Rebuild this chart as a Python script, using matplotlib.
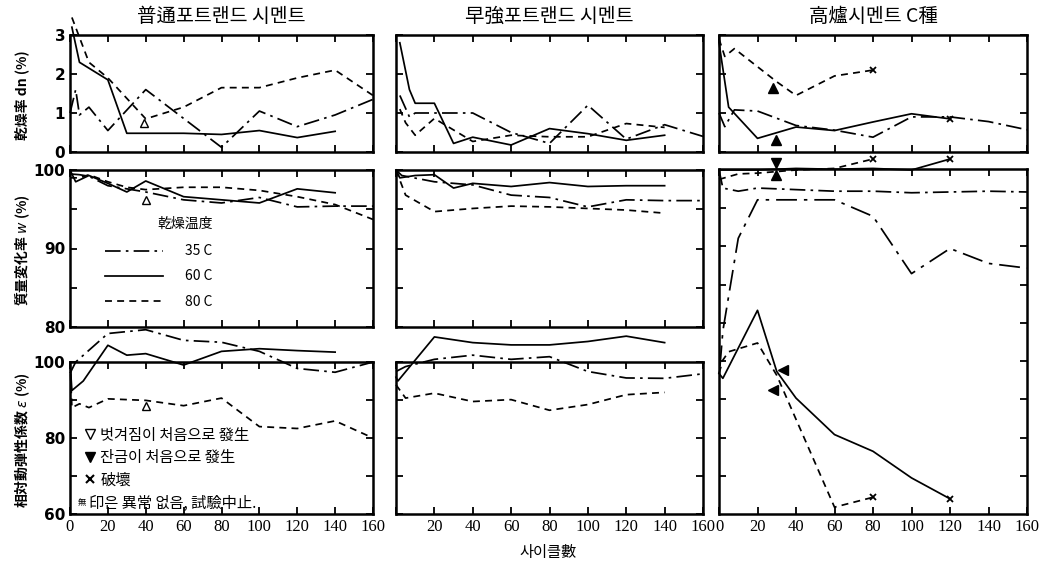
import numpy as np
import matplotlib.pyplot as plt
from matplotlib.lines import Line2D

plt.rcParams['font.family'] = ['Noto Sans CJK KR', 'DejaVu Sans']

# cycles / values
# --- 普通포트랜드 시멘트 ---
op_dn35_x = [0, 3, 5, 10, 20, 40, 80, 100, 120, 140, 160]
op_dn35 = [1.0, 1.6, 0.95, 1.15, 0.55, 1.6, 0.12, 1.05, 0.65, 0.95, 1.35]
op_dn60_x = [1, 5, 20, 30, 40, 60, 80, 100, 120, 140]
op_dn60 = [3.2, 2.3, 1.85, 0.48, 0.48, 0.48, 0.45, 0.55, 0.37, 0.53]
op_dn80_x = [1, 10, 20, 40, 60, 80, 100, 120, 140, 160]
op_dn80 = [3.45, 2.3, 1.9, 0.85, 1.15, 1.65, 1.65, 1.9, 2.1, 1.45]

op_w35_x = [0, 5, 10, 20, 30, 40, 60, 80, 100, 120, 140, 160]
op_w35 = [99.5, 99.4, 99.2, 98.0, 97.6, 97.2, 96.2, 95.8, 96.5, 95.3, 95.4, 95.4]
op_w60_x = [0, 3, 10, 20, 30, 40, 60, 80, 100, 120, 140]
op_w60 = [100, 98.5, 99.3, 98.3, 97.2, 98.6, 96.6, 96.2, 95.8, 97.6, 97.1]
op_w80_x = [0, 5, 10, 20, 30, 40, 60, 80, 100, 120, 140, 160]
op_w80 = [99, 99, 99.4, 98.5, 97.8, 97.5, 97.8, 97.8, 97.4, 96.6, 95.6, 93.7]

op_e35_x = [0, 3, 20, 40, 60, 80, 100, 120, 140, 160]
op_e35 = [97, 100, 107.5, 108.5, 105.7, 105.2, 102.8, 98.3, 97.3, 100]
op_e60_x = [0, 1, 7, 20, 30, 40, 60, 80, 100, 120, 140]
op_e60 = [100, 92.5, 95, 104.4, 101.8, 102.2, 99.2, 102.8, 103.5, 103, 102.6]
op_e80_x = [0, 1, 5, 10, 20, 40, 60, 80, 100, 120, 140, 160]
op_e80 = [100, 88, 89, 88, 90.3, 89.9, 88.5, 90.5, 83, 82.5, 84.5, 80]

# --- 早強포트랜드 시멘트 ---
hs_dn35_x = [2, 7, 10, 20, 40, 60, 80, 100, 120, 140, 160]
hs_dn35 = [1.45, 0.9, 1.0, 1.0, 1.0, 0.5, 0.22, 1.2, 0.33, 0.7, 0.4]
hs_dn60_x = [2, 7, 10, 20, 30, 40, 60, 80, 100, 120, 140]
hs_dn60 = [2.8, 1.6, 1.25, 1.25, 0.22, 0.38, 0.18, 0.6, 0.47, 0.3, 0.43]
hs_dn80_x = [2, 5, 10, 20, 40, 60, 80, 100, 120, 140]
hs_dn80 = [1.1, 0.75, 0.43, 0.86, 0.27, 0.43, 0.39, 0.39, 0.73, 0.63]

hs_w35_x = [0, 3, 20, 40, 60, 80, 100, 120, 140, 160]
hs_w35 = [100, 99.3, 98.5, 98.1, 96.8, 96.5, 95.3, 96.2, 96.1, 96.1]
hs_w60_x = [0, 2, 10, 20, 30, 40, 60, 80, 100, 120, 140]
hs_w60 = [100, 99, 99.3, 99.4, 97.7, 98.3, 97.9, 98.4, 97.9, 98, 98]
hs_w80_x = [0, 5, 20, 40, 60, 80, 100, 120, 140]
hs_w80 = [100, 96.8, 94.7, 95.1, 95.4, 95.3, 95.1, 94.9, 94.5]

hs_e35_x = [0, 5, 20, 40, 60, 80, 100, 120, 140, 160]
hs_e35 = [97.5, 98.8, 100.7, 101.8, 100.7, 101.4, 97.5, 95.8, 95.7, 96.9]
hs_e60_x = [0, 1, 20, 40, 60, 80, 100, 120, 140]
hs_e60 = [96, 95, 106.6, 105.1, 104.5, 104.5, 105.4, 106.8, 105.1]
hs_e80_x = [0, 5, 20, 40, 60, 80, 100, 120, 140]
hs_e80 = [94, 90.5, 91.8, 89.6, 90.1, 87.3, 88.8, 91.4, 92]

# --- 高爐시멘트 C種 ---
bf_dn35_x = [0, 3, 8, 20, 40, 60, 80, 100, 120, 140, 160]
bf_dn35 = [1.0, 0.65, 1.08, 1.05, 0.68, 0.56, 0.38, 0.9, 0.9, 0.78, 0.57]
bf_dn60_x = [0, 5, 20, 40, 60, 80, 100, 120]
bf_dn60 = [2.8, 1.15, 0.35, 0.64, 0.55, 0.77, 0.98, 0.85]
bf_dn80_x = [0, 3, 8, 30, 40, 60, 80]
bf_dn80 = [2.9, 2.45, 2.65, 1.8, 1.45, 1.95, 2.1]

bf_w35_x = [0, 2, 10, 20, 40, 60, 80, 100, 120, 140, 160]
bf_w35 = [100, 97.7, 97.3, 97.7, 97.5, 97.3, 97.3, 97.1, 97.2, 97.3, 97.2]
bf_w35b_x = [0.5, 2, 10, 20, 40, 60, 80, 100, 120, 140, 160]
bf_w35b = [75, 79.5, 91.3, 96.2, 96.2, 96.2, 94.1, 86.8, 90.0, 88.1, 87.5]
bf_w60_x = [0, 20, 40, 60, 80, 100, 120]
bf_w60 = [100, 100, 100.2, 100.1, 100.2, 100, 101.4]
bf_w80_x = [0, 10, 20, 30, 40, 60, 80]
bf_w80 = [98.8, 99.5, 99.6, 99.8, 100, 100.2, 101.4]

bf_e60_x = [0, 2, 20, 30, 40, 60, 80, 100, 120]
bf_e60 = [97, 95.7, 113.6, 97.5, 90.5, 80.9, 76.5, 69.5, 64]
bf_e80_x = [0, 2, 5, 20, 30, 60, 80]
bf_e80 = [97, 100.5, 102.7, 105, 96.5, 61.8, 64.4]

# event markers
peel_x = [39, 40, 40]          # ▽ (op: dn, w, e)
peel_y = [0.75, 96.2, 88.3]
crack_dn_x = [28, 29.5]
crack_dn_y = [1.65, 0.3]
crack_w_x = [29.5, 29.5]
crack_w_y = [100.85, 99.4]
crack_e_x = [33.4, 27.9]
crack_e_y = [97.9, 92.7]
break_x = [80, 120]
break_dn = [2.1, 0.85]
break_w = [101.4, 101.4]
break_e = [64.4, 64]

xticks = list(range(0, 161, 20))
ls35 = (0, (9, 3, 1.5, 3))
ls35b = (0, (12, 4, 2, 4))
ls60 = '-'
ls80 = (0, (4, 3))

W, H = 1048, 568
fig = plt.figure(figsize=(W / 100, H / 100), dpi=100)


def rect(x0, x1, y0, y1):
    return [x0 / W, 1 - y1 / H, (x1 - x0) / W, (y1 - y0) / H]


cols = [(70, 373), (396, 703), (719, 1027)]
rows = [(35, 152), (170, 327), (362, 514)]
ylims = [(0, 3), (80, 100), (60, 100)]


def style(ax, row, col, frame=True):
    ax.set_xlim(0, 160)
    ax.set_ylim(*ylims[row])
    ax.set_xticks(xticks)
    ax.tick_params(direction='in', top=True, right=True, length=5, width=1.3)
    ax.tick_params(which='minor', direction='in', right=True, length=5, width=1.3)
    for s in ax.spines.values():
        s.set_linewidth(1.8)
    if row == 0:
        ax.set_yticks([0, 1, 2, 3])
    elif row == 1:
        ax.set_yticks([80, 90, 100])
        ax.set_yticks([85, 95], minor=True)
    else:
        ax.set_yticks([60, 80, 100])
        ax.set_yticks([70, 90], minor=True)
    if col == 0:
        ax.set_yticklabels([str(t) for t in ax.get_yticks()], fontsize=11,
                           fontweight='bold', family='DejaVu Sans')
    else:
        ax.set_yticklabels([])
    if row == 2:
        labs = [str(t) for t in xticks]
        if col == 1:
            labs[0] = ''
        ax.set_xticklabels(labs, fontsize=12, family='Liberation Serif')
    else:
        ax.set_xticklabels([])
    if not frame:
        ax.axis('off')
        ax.patch.set_visible(False)


axes = [[None] * 3 for _ in range(3)]
for c, (x0, x1) in enumerate(cols):
    for r, (y0, y1) in enumerate(rows):
        ax = fig.add_axes(rect(x0, x1, y0, y1))
        frame = not (c == 2 and r > 0)
        style(ax, r, c, frame)
        axes[r][c] = ax

# combined frame for 高爐 rows 2-3
bg = fig.add_axes(rect(719, 1027, 169, 514), zorder=-1)
bg.set_xlim(0, 160)
bg.set_ylim(60, 60 + (514 - 169) / 3.825)
bg.set_xticks(xticks)
bg.set_xticklabels([str(t) for t in xticks], fontsize=12, family='Liberation Serif')
bg.set_yticks(list(range(70, 150, 10)))
bg.set_yticklabels([])
bg.tick_params(direction='in', top=True, right=True, length=5, width=1.3)
for s in bg.spines.values():
    s.set_linewidth(1.8)

kw = dict(color='k', lw=1.25, clip_on=False)
series = [
    (0, 0, op_dn35_x, op_dn35, ls35), (0, 0, op_dn60_x, op_dn60, ls60), (0, 0, op_dn80_x, op_dn80, ls80),
    (1, 0, op_w35_x, op_w35, ls35), (1, 0, op_w60_x, op_w60, ls60), (1, 0, op_w80_x, op_w80, ls80),
    (2, 0, op_e35_x, op_e35, ls35), (2, 0, op_e60_x, op_e60, ls60), (2, 0, op_e80_x, op_e80, ls80),
    (0, 1, hs_dn35_x, hs_dn35, ls35), (0, 1, hs_dn60_x, hs_dn60, ls60), (0, 1, hs_dn80_x, hs_dn80, ls80),
    (1, 1, hs_w35_x, hs_w35, ls35), (1, 1, hs_w60_x, hs_w60, ls60), (1, 1, hs_w80_x, hs_w80, ls80),
    (2, 1, hs_e35_x, hs_e35, ls35), (2, 1, hs_e60_x, hs_e60, ls60), (2, 1, hs_e80_x, hs_e80, ls80),
    (0, 2, bf_dn35_x, bf_dn35, ls35), (0, 2, bf_dn60_x, bf_dn60, ls60), (0, 2, bf_dn80_x, bf_dn80, ls80),
    (1, 2, bf_w35_x, bf_w35, ls35), (1, 2, bf_w35b_x, bf_w35b, ls35b),
    (1, 2, bf_w60_x, bf_w60, ls60), (1, 2, bf_w80_x, bf_w80, ls80),
    (2, 2, bf_e60_x, bf_e60, ls60), (2, 2, bf_e80_x, bf_e80, ls80),
]
for r, c, x, y, ls in series:
    axes[r][c].plot(x, y, ls=ls, **kw)

# markers
mk = dict(ls='', color='k', clip_on=False)
for r in range(3):
    axes[r][0].plot(peel_x[r], peel_y[r], marker='^', mfc='white', mec='k', ms=6, **mk)
axes[0][2].plot(crack_dn_x, crack_dn_y, marker='^', ms=7, **mk)
axes[1][2].plot(crack_w_x[0], crack_w_y[0], marker='v', ms=7, **mk)
axes[1][2].plot(crack_w_x[1], crack_w_y[1], marker='^', ms=7, **mk)
axes[2][2].plot(crack_e_x, crack_e_y, marker='<', ms=7, **mk)
axes[0][2].plot(break_x, break_dn, marker='x', ms=5, mew=1.3, **mk)
axes[1][2].plot(break_x, break_w, marker='x', ms=5, mew=1.3, **mk)
axes[2][2].plot(break_x, break_e, marker='x', ms=5, mew=1.3, **mk)

# titles
titles = ['普通포트랜드 시멘트', '早強포트랜드 시멘트', '高爐시멘트 C種']
for c, (x0, x1) in enumerate(cols):
    fig.text((x0 + x1) / 2 / W, 1 - 16 / H, titles[c], ha='center', va='center', fontsize=14)

ylabels = ['乾燥率 dn (%)', '質量変化率 $w$ (%)', '相対動弾性係数 $\\epsilon$ (%)']
ycent = [95, 250, 440]
for t, yc in zip(ylabels, ycent):
    fig.text(22 / W, 1 - yc / H, t, rotation=90, ha='center', va='center',
             fontsize=10, fontweight='bold')

fig.text(548 / W, 1 - 553 / H, '사이클數', ha='center', va='center', fontsize=11)

# temperature legend
temp_handles = [Line2D([], [], color='k', lw=1.25, ls=ls) for ls in (ls35, ls60, ls80)]
leg = axes[1][0].legend(temp_handles, ['35 C', '60 C', '80 C'], title='乾燥温度',
                        frameon=False, loc='upper left', handlelength=4.2,
                        handletextpad=1.6, labelspacing=0.8, fontsize=10,
                        title_fontsize=10, alignment='right',
                        bbox_to_anchor=(92 / W, 1 - 204 / H), bbox_transform=fig.transFigure)
leg._legend_box.sep = 10

# event legend
ev_handles = [Line2D([], [], ls='', marker='v', mfc='white', mec='k', color='k', ms=7),
              Line2D([], [], ls='', marker='v', color='k', ms=7),
              Line2D([], [], ls='', marker='x', color='k', ms=6, mew=1.5)]
axes[2][0].legend(ev_handles, ['벗겨짐이 처음으로 發生', '잔금이 처음으로 發生', '破壞'],
                  frameon=False, loc='upper left', handlelength=0.8, handletextpad=0.3,
                  labelspacing=0.35, fontsize=11, borderpad=0,
                  bbox_to_anchor=(76 / W, 1 - 419 / H), bbox_transform=fig.transFigure)
fig.text(78 / W, 1 - 503 / H, '無', fontsize=6, va='center')
fig.text(89 / W, 1 - 503 / H, '印은 異常 없음, 試驗中止.', fontsize=11, va='center')

fig.savefig('out.png', dpi=100)
